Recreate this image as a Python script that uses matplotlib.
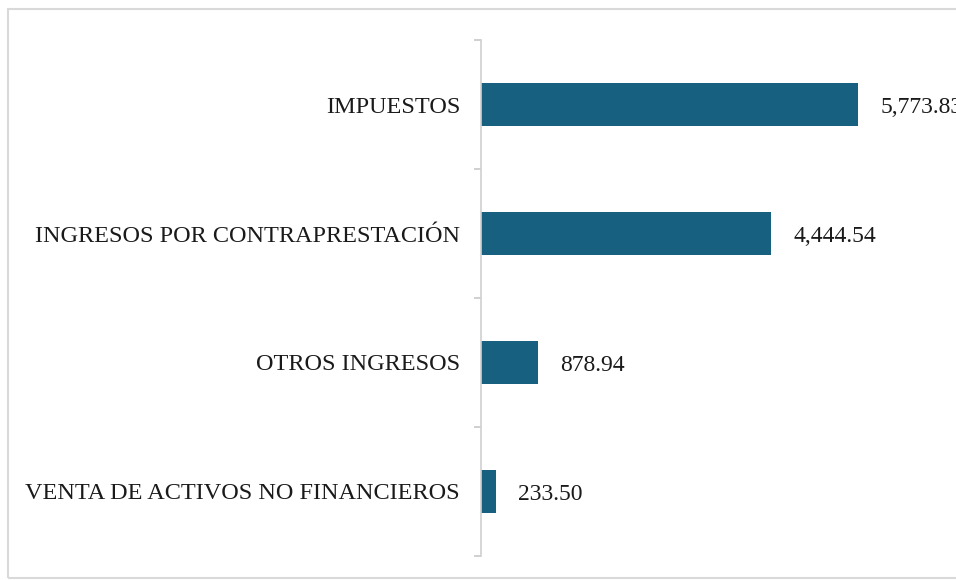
import numpy as np
import matplotlib
matplotlib.use("Agg")
import matplotlib.pyplot as plt
from matplotlib.patches import Rectangle

categorias = ["IMPUESTOS", "INGRESOS POR CONTRAPRESTACIÓN",
              "OTROS INGRESOS", "VENTA DE ACTIVOS NO FINANCIEROS"]
valores = [5773.83, 4444.54, 878.94, 233.50]
etiquetas = ["5,773.83", "4,444.54", "878.94", "233.50"]

plt.rcParams['font.family'] = ['Liberation Serif', 'DejaVu Serif']

fig = plt.figure(figsize=(9.56, 5.8), dpi=100)
ax = fig.add_axes([0.503, 0.0414, 0.497, 0.8896])

# borde gris del grafico
fig.patches.append(Rectangle((8/956, 2/580), 1.0, 569/580, transform=fig.transFigure,
                             fill=False, edgecolor='#d9d9d9', linewidth=1.5))

pos = np.arange(len(categorias))[::-1]
ax.barh(pos, valores, height=0.34, color='#17607f')

# etiquetas de valor (la primera queda cortada en el borde, como en el original)
for p, v, t in zip(pos, valores, etiquetas):
    ax.annotate(t, (v, p), xytext=(16, -2.5), textcoords='offset points',
                va='center', ha='left', fontsize=17, color='#1a1a1a',
                annotation_clip=False)

ax.set_xlim(0, 7274)
ax.set_ylim(-0.5, 3.5)
ax.set_yticks(pos)
ax.set_yticklabels(categorias, fontsize=17.5, color='#1a1a1a',
                   va='center_baseline')
ax.set_yticks(np.arange(-0.5, 4.0, 1.0), minor=True)
ax.tick_params(axis='y', which='major', length=0, pad=15)
ax.tick_params(axis='y', which='minor', length=5, color='#c8c8c8', width=1.2)
ax.set_xticks([])

for s in ['top', 'right', 'bottom']:
    ax.spines[s].set_visible(False)
ax.spines['left'].set_color('#d0d0d0')
ax.spines['left'].set_linewidth(1.2)

fig.savefig("out.png", dpi=100)
